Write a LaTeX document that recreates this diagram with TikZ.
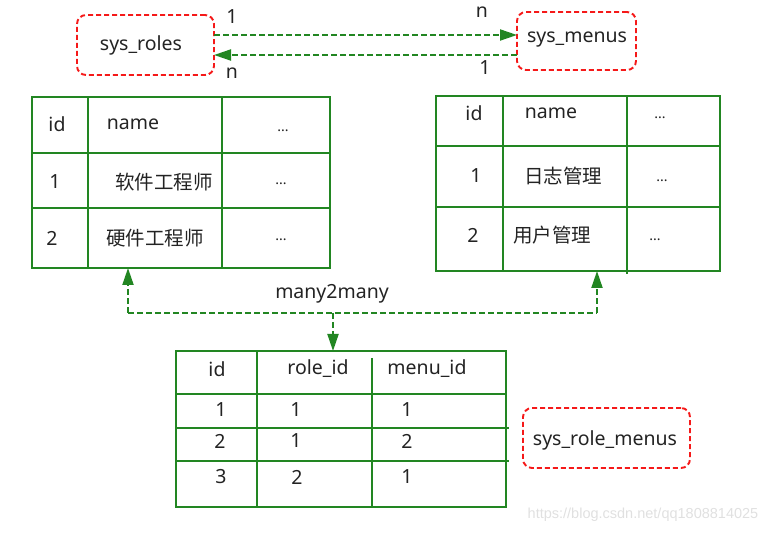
\documentclass[tikz,border=0pt]{standalone}
\usepackage{fontspec}
\setmainfont{Noto Sans}
\newfontfamily\cjk{Noto Sans CJK SC}
\newfontfamily\wmfont{Liberation Sans}
\usetikzlibrary{arrows.meta}
\definecolor{tgreen}{RGB}{34,134,34}
\definecolor{tred}{RGB}{245,25,25}
\definecolor{ttext}{RGB}{35,35,35}
\begin{document}
\begin{tikzpicture}[x=1pt,y=-1pt,
  every node/.style={inner sep=0pt,outer sep=0pt,text=ttext,font=\fontsize{19.5}{23}\selectfont},
  tbl/.style={draw=tgreen,line width=2.6pt,anchor=north west},
  gridline/.style={draw=tgreen,line width=2.6pt},
  namebox/.style={draw=tred,line width=1.9pt,dash pattern=on 5pt off 3pt,rounded corners=9pt,anchor=north west},
  conn/.style={draw=tgreen,line width=2pt,dash pattern=on 6pt off 3pt},
  tip/.style={-{Triangle[length=17pt,width=11pt]}},
  dots/.style={font=\fontsize{14}{16}\selectfont},
  zh/.style={font=\fontsize{19.5}{23}\selectfont\cjk}]
\useasboundingbox (0,0) rectangle (779,534);

% name boxes
\node[namebox,minimum width=137pt,minimum height=60pt] (roles) at (77,15) {};
\node (rolesT) at (141,45) {sys\_roles};
\node[namebox,minimum width=119pt,minimum height=58pt] (menus) at (517,12) {};
\node (menusT) at (577,40) {sys\_menus};
\node[namebox,minimum width=167pt,minimum height=60pt] (rm) at (523,408) {};
\node (rmT) at (605,440) {sys\_role\_menus};

% relation arrows
\draw[conn,tip] (roles.east |- 0,35) -- (menus.west |- 0,35);
\draw[conn,tip] (menus.west |- 0,55) -- (roles.east |- 0,55);
\node (l1) at (232,17) {1};
\node (ln1) at (482,12) {n};
\node (ln2) at (232,73) {n};
\node (l2) at (485,68) {1};

% table 1 (sys_roles)
\node[tbl,minimum width=298pt,minimum height=171pt] (t1) at (32,97) {};
\draw[gridline] (88,97) -- (88,268);
\draw[gridline] (222,97) -- (222,268);
\draw[gridline] (32,153) -- (330,153);
\draw[gridline] (32,208) -- (330,208);
\node (a1) at (57,124) {id};
\node (a2) at (133,124) {name};
\node[dots] (a3) at (283,131) {...};
\node (a4) at (55,182) {1};
\node[zh] (a5) at (164,182) {软件工程师};
\node[dots] (a6) at (281,184) {...};
\node (a7) at (52,238) {2};
\node[zh] (a8) at (155,238) {硬件工程师};
\node[dots] (a9) at (281,240) {...};

% table 2 (sys_menus)
\node[tbl,minimum width=284pt,minimum height=175pt] (t2) at (436,96) {};
\draw[gridline] (503,96) -- (503,271);
\draw[gridline] (627,96) -- (627,274);
\draw[gridline] (436,146) -- (720,146);
\draw[gridline] (436,207) -- (720,207);
\node (b1) at (474,113) {id};
\node (b2) at (551,113) {name};
\node[dots] (b3) at (660,118) {...};
\node (b4) at (476,176) {1};
\node[zh] (b5) at (563,176) {日志管理};
\node[dots] (b6) at (662,181) {...};
\node (b7) at (473,235) {2};
\node[zh] (b8) at (552,235) {用户管理};
\node[dots] (b9) at (655,240) {...};

% table 3 (sys_role_menus)
\node[tbl,minimum width=330pt,minimum height=156pt] (t3) at (176,351) {};
\draw[gridline] (257,351) -- (257,507);
\draw[gridline] (372,358) -- (372,507);
\draw[gridline] (176,394) -- (506,394);
\draw[gridline] (176,428) -- (509,428);
\draw[gridline] (176,461) -- (509,461);
\node (c1) at (217,369) {id};
\node (c2) at (318,369) {role\_id};
\node (c3) at (427,369) {menu\_id};
\node (c4) at (221,410) {1};
\node (c5) at (296,410) {1};
\node (c6) at (407,410) {1};
\node (c7) at (220,441) {2};
\node (c8) at (296,441) {1};
\node (c9) at (407,441) {2};
\node (c10) at (221,477) {3};
\node (c11) at (297,477) {2};
\node (c12) at (407,477) {1};

% many2many connector
\coordinate (jl) at (128,313);
\coordinate (jm) at (333,313);
\coordinate (jr) at (597,313);
\draw[conn] (jl) -- (jr);
\draw[conn,tip] (jl) -- (jl |- t1.south);
\draw[conn,tip] (jr) -- (jr |- t2.south);
\draw[conn,tip] (jm) -- (jm |- t3.north);
\node (m2m) at (332,294) {many2many};

% watermark
\node[text=black!12,font=\fontsize{14.5}{16}\selectfont\wmfont] (wm) at (643,515) {https://blog.csdn.net/qq1808814025};
\end{tikzpicture}
\end{document}
